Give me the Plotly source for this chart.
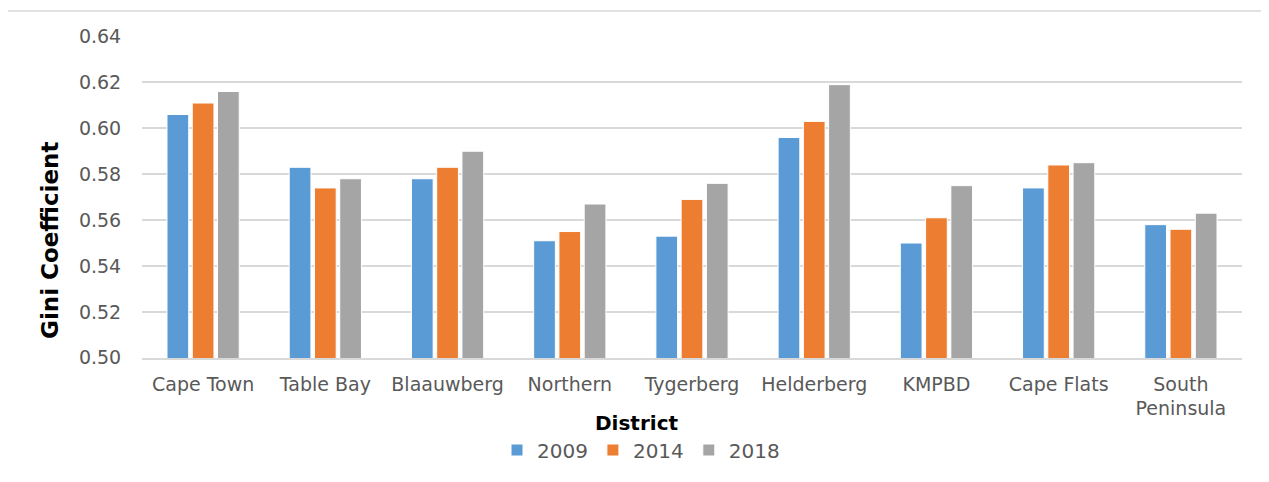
import plotly.graph_objects as go

districts = ["Cape Town", "Table Bay", "Blaauwberg", "Northern", "Tygerberg",
             "Helderberg", "KMPBD", "Cape Flats", "South<br>Peninsula"]
gini_2009 = [0.606, 0.583, 0.578, 0.551, 0.553, 0.596, 0.550, 0.574, 0.558]
gini_2014 = [0.611, 0.574, 0.583, 0.555, 0.569, 0.603, 0.561, 0.584, 0.556]
gini_2018 = [0.616, 0.578, 0.590, 0.567, 0.576, 0.619, 0.575, 0.585, 0.563]
years = ["2009", "2014", "2018"]
colors = ["#5B9BD5", "#ED7D31", "#A5A5A5"]
y_ticks = [0.50, 0.52, 0.54, 0.56, 0.58, 0.60, 0.62, 0.64]

FONT = "Century Gothic, DejaVu Sans, sans-serif"
GRID = "#D9D9D9"
TXT = "#595959"

OFF = 8  # page body margin
W, H = 1269 - OFF, 482 - OFF
L, R, T, B = 142 - OFF, 27, 36 - OFF, 124
pw, ph = W - L - R, H - T - B

def px_x(p):
    return (p - OFF - L) / pw

def px_y(p):
    return (H - B - (p - OFF)) / ph

fig = go.Figure()
for name, vals, c in zip(years, [gini_2009, gini_2014, gini_2018], colors):
    fig.add_trace(go.Bar(x=districts, y=vals, name=name,
                         marker=dict(color=c, line=dict(color="white", width=1))))

fig.update_layout(
    width=W, height=H,
    margin=dict(l=L, r=R, t=T, b=B),
    paper_bgcolor="white", plot_bgcolor="white",
    barmode="group", bargap=0.38, bargroupgap=0.14,
    font=dict(family=FONT, color=TXT, size=19),
    showlegend=True,
    legend=dict(orientation="h", x=px_x(641), xanchor="center",
                y=px_y(450), yanchor="middle",
                font=dict(family=FONT, size=20, color=TXT),
                itemwidth=30, tracegroupgap=0, bgcolor="rgba(0,0,0,0)"),
    xaxis=dict(showgrid=False, showline=True, linecolor=GRID, linewidth=1.5,
               ticks="outside", ticklen=8, tickcolor="rgba(0,0,0,0)",
               tickfont=dict(family=FONT, size=19, color=TXT)),
    yaxis=dict(range=[0.4999, 0.6402], tickvals=y_ticks,
               ticktext=[f"{v:.2f}" for v in y_ticks],
               showgrid=True, gridcolor=GRID, gridwidth=1.5,
               zeroline=False, showline=False,
               ticks="outside", ticklen=16, tickcolor="rgba(0,0,0,0)",
               tickfont=dict(family=FONT, size=19, color=TXT)),
    annotations=[
        dict(text="<b>Gini Coefficient</b>", xref="paper", yref="paper",
             x=px_x(50), y=px_y(241), textangle=-90, showarrow=False,
             xanchor="center", yanchor="middle",
             font=dict(family=FONT, size=23, color="black")),
        dict(text="<b>District</b>", xref="paper", yref="paper",
             x=px_x(636), y=px_y(423), showarrow=False,
             xanchor="center", yanchor="middle",
             font=dict(family=FONT, size=20, color="black")),
    ],
    shapes=[
        dict(type="rect", xref="paper", yref="paper",
             x0=px_x(7), x1=px_x(1290), y0=px_y(500), y1=px_y(11),
             line=dict(color=GRID, width=1.5), fillcolor="rgba(0,0,0,0)",
             layer="below"),
    ],
)

fig.write_html("out.html")
